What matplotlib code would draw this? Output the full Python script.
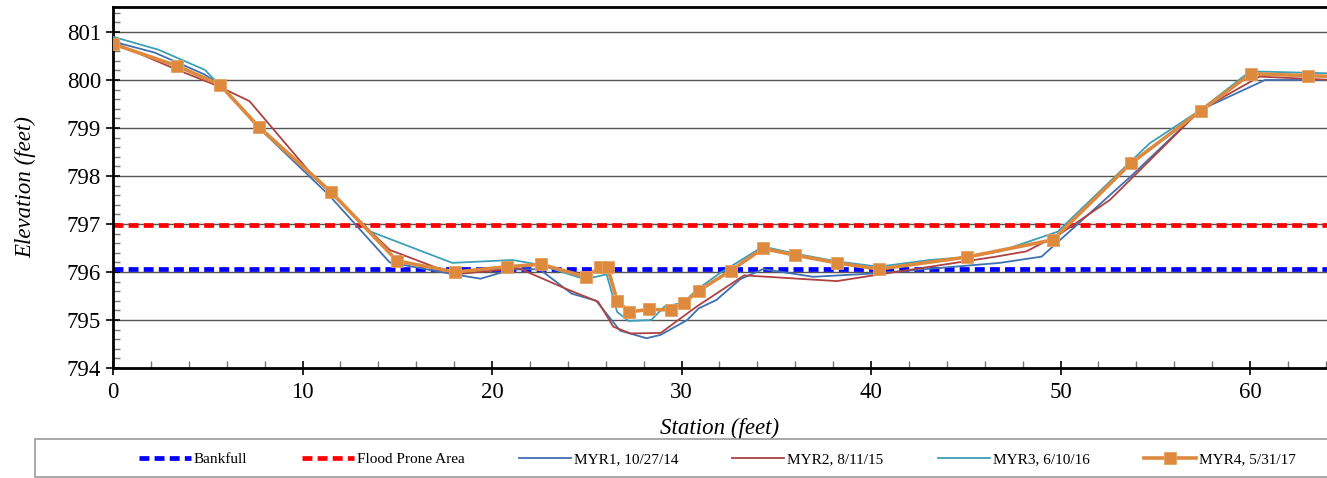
import matplotlib
matplotlib.use("Agg")
import matplotlib.pyplot as plt
from matplotlib.ticker import MultipleLocator
from matplotlib.patches import Rectangle

# ---- data ----
bankfull = 796.06
flood_prone = 796.97

myr1_x = [0, 2.2, 4.8, 5.6, 7.7, 11.4, 14.6, 18.0, 19.4, 21.0, 22.5, 24.2, 25.5, 26.75, 28.15, 28.9, 30.3, 30.9, 31.85, 33.1, 34.3, 36.95, 40.2, 46.8, 49.0, 53.7, 57.4, 60.8, 66]
myr1_y = [800.8, 800.57, 800.12, 799.92, 799.0, 797.6, 796.2, 795.95, 795.86, 796.05, 796.06, 795.55, 795.40, 794.78, 794.62, 794.69, 795.0, 795.24, 795.42, 795.85, 796.06, 795.9, 795.97, 796.19, 796.32, 797.99, 799.38, 800.0, 800.0]

myr2_x = [0, 3.4, 5.5, 7.2, 10.6, 14.6, 18.0, 21.4, 23.9, 25.6, 26.4, 27.3, 28.9, 30.8, 33.3, 38.2, 40.3, 46.6, 48.2, 50.0, 52.6, 57.4, 60.5, 66]
myr2_y = [800.78, 800.21, 799.88, 799.56, 797.98, 796.46, 795.95, 796.08, 795.65, 795.38, 794.86, 794.72, 794.73, 795.28, 795.93, 795.81, 795.94, 796.32, 796.43, 796.8, 797.5, 799.38, 800.07, 799.97]

myr3_x = [0, 2.4, 4.85, 5.6, 7.7, 11.5, 13.6, 17.9, 21.1, 22.5, 24.9, 26.05, 26.6, 27.2, 28.4, 29.1, 30.1, 30.8, 32.0, 34.3, 35.9, 38.2, 40.4, 43.1, 45.05, 46.8, 49.85, 54.7, 57.4, 60.0, 66]
myr3_y = [800.9, 800.63, 800.21, 799.9, 799.0, 797.65, 796.84, 796.19, 796.25, 796.15, 795.85, 795.95, 795.17, 794.98, 795.0, 795.28, 795.36, 795.63, 795.97, 796.53, 796.39, 796.22, 796.11, 796.25, 796.31, 796.43, 796.84, 798.68, 799.38, 800.18, 800.12]

myr4_x = [0, 3.4, 5.65, 7.7, 11.5, 15.0, 18.05, 20.8, 22.6, 24.95, 25.7, 26.1, 26.6, 27.25, 28.3, 29.45, 30.15, 30.9, 32.6, 34.3, 36.0, 38.2, 40.4, 45.05, 49.6, 53.7, 57.4, 60.05, 63.05, 66]
myr4_y = [800.75, 800.29, 799.90, 799.02, 797.67, 796.23, 796.0, 796.11, 796.16, 795.90, 796.1, 796.1, 795.40, 795.17, 795.22, 795.21, 795.36, 795.61, 796.03, 796.49, 796.35, 796.19, 796.06, 796.31, 796.67, 798.26, 799.36, 800.13, 800.09, 800.05]

labels = ["Bankfull", "Flood Prone Area", "MYR1, 10/27/14", "MYR2, 8/11/15", "MYR3, 6/10/16", "MYR4, 5/31/17"]
x_ticks = [0, 10, 20, 30, 40, 50, 60]
y_ticks = [794, 795, 796, 797, 798, 799, 800, 801]

plt.rcParams['font.family'] = ['Liberation Serif', 'DejaVu Serif']

fig = plt.figure(figsize=(13.27, 4.78), dpi=100)
ax = fig.add_axes([113/1327, 1 - 368/478, 1 - 113/1327, (368 - 7)/478])

ax.set_xlim(0, 64.06)
ax.set_ylim(794, 801.52)

ax.yaxis.grid(True, which='major', color='#555555', lw=1.0, zorder=0)
ax.set_axisbelow(True)

dash = (0, (2.1, 1.1))
l_bf = ax.axhline(bankfull, color='#0000FF', lw=3.4, linestyle=dash, zorder=2)
l_fp = ax.axhline(flood_prone, color='#FF0000', lw=3.4, linestyle=dash, zorder=2)

l1, = ax.plot(myr1_x, myr1_y, color='#4170B0', lw=1.3, zorder=3)
l2, = ax.plot(myr2_x, myr2_y, color='#AE4240', lw=1.3, zorder=3)
l3, = ax.plot(myr3_x, myr3_y, color='#3B9FB8', lw=1.3, zorder=3)
l4, = ax.plot(myr4_x, myr4_y, color='#DD8A3F', lw=2.6, marker='s', markersize=9,
              markeredgecolor='#E8A060', markeredgewidth=0.6, zorder=4)

ax.set_xticks(x_ticks)
ax.set_yticks(y_ticks)
ax.xaxis.set_minor_locator(MultipleLocator(2))
ax.yaxis.set_minor_locator(MultipleLocator(0.2))
ax.tick_params(axis='both', which='major', direction='inout', length=10, width=1.2,
               color='black', labelsize=16.5)
ax.tick_params(axis='both', which='minor', direction='in', length=5, width=1.0, color='#777777')
ax.tick_params(axis='x', which='major', pad=5)

for s in ['left', 'bottom', 'top']:
    ax.spines[s].set_linewidth(2.0)
    ax.spines[s].set_color('black')
ax.spines['right'].set_visible(False)

ax.set_xlabel('Station (feet)', fontsize=16.5, style='italic', labelpad=11)
ax.set_ylabel('Elevation (feet)', fontsize=16.5, style='italic', labelpad=22)

# legend frame
fig.patches.append(Rectangle((35/1327, 1.5/478), 1.2, (476 - 438)/478,
                             transform=fig.transFigure, facecolor='white',
                             edgecolor='#999999', lw=1.2, zorder=0))

leg = fig.legend([l_bf, l_fp, l1, l2, l3, l4], labels, ncol=6,
                 loc='center left', bbox_to_anchor=(139/1327, 1 - 459/478),
                 fontsize=11, frameon=False, borderpad=0, borderaxespad=0,
                 handlelength=3.4, handletextpad=0.2, columnspacing=3.55)

fig.savefig('out.png', dpi=100)
